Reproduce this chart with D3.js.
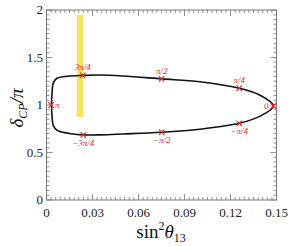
<!DOCTYPE html>
<html>
<head>
<meta charset="utf-8">
<script src="https://cdn.jsdelivr.net/npm/d3@7.9.0/dist/d3.min.js"></script>
<style>
  body { margin: 0; background: #fff; }
  svg { display: block; font-family: "Liberation Serif", "DejaVu Serif", serif; }
</style>
</head>
<body>
<svg id="chart" width="291" height="246"></svg>
<script>
// curve (sin^2 theta13, deltaCP/pi)
const curveX = [0.148, 0.139, 0.1257, 0.100, 0.0751, 0.050, 0.035, 0.0236, 0.012, 0.0068, 0.0045, 0.0036, 0.0033, 0.0036, 0.0045, 0.0068, 0.010, 0.016, 0.024, 0.035, 0.050, 0.0751, 0.100, 0.1257, 0.139];
const curveY = [0.99, 1.105, 1.176, 1.245, 1.275, 1.305, 1.316, 1.312, 1.300, 1.282, 1.235, 1.12, 1.0, 0.88, 0.78, 0.735, 0.715, 0.697, 0.686, 0.686, 0.695, 0.713, 0.745, 0.807, 0.88];

// marked delta values
const markLabels = ["0", "\u03c0/4", "\u03c0/2", "3\u03c0/4", "\u03c0", "\u22123\u03c0/4", "\u2212\u03c0/2", "\u2212\u03c0/4"];
const markX = [0.148, 0.1257, 0.0751, 0.0236, 0.0030, 0.024, 0.0751, 0.1257];
const markY = [0.99, 1.176, 1.275, 1.312, 1.0, 0.686, 0.713, 0.807];
const markSide = ["left", "above", "above", "above", "right", "below", "below", "below"];

// allowed sin^2 theta13 band
const bandX = [0.0198, 0.0241];
const bandY = [0.874, 1.95];

const xTicks = [0, 0.03, 0.06, 0.09, 0.12, 0.15];
const yTicks = [0, 0.5, 1, 1.5, 2];

const svg = d3.select("#chart");
const margin = { top: 10, right: 14.5, bottom: 46, left: 46.5 };
const W = 291 - margin.left - margin.right;
const H = 246 - margin.top - margin.bottom;

const x = d3.scaleLinear().domain([0, 0.15]).range([0, W]);
const y = d3.scaleLinear().domain([0, 2]).range([H, 0]);

const g = svg.append("g").attr("transform", `translate(${margin.left},${margin.top})`);

// yellow band
g.append("rect")
  .attr("x", x(bandX[0]))
  .attr("width", x(bandX[1]) - x(bandX[0]))
  .attr("y", y(bandY[1]))
  .attr("height", y(bandY[0]) - y(bandY[1]))
  .attr("fill", "#f8e35e");

// frame + ticks (inside, mirrored)
const frameColor = "#777";
const xMinor = d3.range(0, 0.15001, 0.003);
const yMinor = d3.range(0, 2.0001, 0.05);

function isMajor(v, list) { return list.some(t => Math.abs(t - v) < 1e-6); }

const ticks = g.append("g").attr("stroke", frameColor).attr("stroke-width", 0.8);
xMinor.forEach(v => {
  const len = isMajor(v, xTicks) ? 6 : 3;
  ticks.append("line").attr("x1", x(v)).attr("x2", x(v)).attr("y1", H).attr("y2", H - len);
  ticks.append("line").attr("x1", x(v)).attr("x2", x(v)).attr("y1", 0).attr("y2", len);
});
yMinor.forEach(v => {
  const len = isMajor(v, yTicks) ? 6 : 3;
  ticks.append("line").attr("x1", 0).attr("x2", len).attr("y1", y(v)).attr("y2", y(v));
  ticks.append("line").attr("x1", W).attr("x2", W - len).attr("y1", y(v)).attr("y2", y(v));
});

g.append("rect")
  .attr("width", W).attr("height", H)
  .attr("fill", "none").attr("stroke", frameColor).attr("stroke-width", 1);

// tick labels
g.selectAll(".xt").data(xTicks).join("text")
  .attr("x", d => x(d)).attr("y", H + 17)
  .attr("text-anchor", "middle").attr("font-size", 13).attr("fill", "#222")
  .text(d => d3.format("")(d));

g.selectAll(".yt").data(yTicks).join("text")
  .attr("x", -3.5).attr("y", d => y(d)).attr("dy", "0.33em")
  .attr("text-anchor", "end").attr("font-size", 13).attr("fill", "#222")
  .text(d => d3.format("")(d));

// curve
const pts = curveX.map((v, i) => [v, curveY[i]]);
const line = d3.line().x(d => x(d[0])).y(d => y(d[1])).curve(d3.curveCatmullRomClosed.alpha(0.5));
g.append("path").attr("d", line(pts))
  .attr("fill", "none").attr("stroke", "#111").attr("stroke-width", 1.6);

// markers
const red = "#e8262c";
const marks = g.append("g");
markX.forEach((mx, i) => {
  const cx = x(mx), cy = y(markY[i]), s = 2.8;
  marks.append("path")
    .attr("d", `M${cx - s},${cy - s}L${cx + s},${cy + s}M${cx - s},${cy + s}L${cx + s},${cy - s}`)
    .attr("stroke", red).attr("stroke-width", 1.1);
  const t = marks.append("text").attr("fill", red).attr("font-size", 9)
    .attr("font-style", "italic").text(markLabels[i]);
  if (markSide[i] === "above") t.attr("x", cx).attr("y", cy - 5).attr("text-anchor", "middle");
  if (markSide[i] === "below") t.attr("x", cx).attr("y", cy + 11).attr("text-anchor", "middle");
  if (markSide[i] === "left") t.attr("x", cx - 5).attr("y", cy + 3).attr("text-anchor", "end");
  if (markSide[i] === "right") t.attr("x", cx + 4).attr("y", cy + 3).attr("text-anchor", "start");
});

// axis titles
const xt = svg.append("text").attr("x", 161).attr("y", 238)
  .attr("text-anchor", "middle").attr("font-size", 19).attr("fill", "#111");
xt.append("tspan").text("sin");
xt.append("tspan").attr("font-size", 12).attr("dy", -8).text("2");
xt.append("tspan").attr("font-style", "italic").attr("dy", 8).text("\u03b8");
xt.append("tspan").attr("font-size", 12).attr("dy", 3.5).text("13");

const yt = svg.append("text").attr("transform", "translate(23,108) rotate(-90)")
  .attr("text-anchor", "middle").attr("font-size", 19).attr("font-style", "italic").attr("fill", "#111");
yt.append("tspan").text("\u03b4");
yt.append("tspan").attr("font-size", 12).attr("dy", 4).text("CP");
yt.append("tspan").attr("dy", -4).text("/\u03c0");
</script>
</body>
</html>
